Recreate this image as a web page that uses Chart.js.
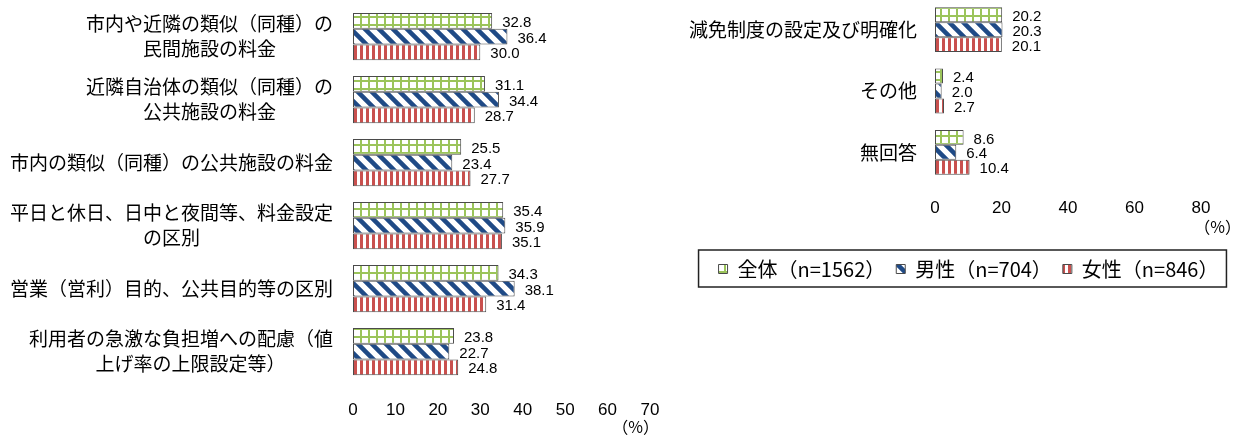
<!DOCTYPE html>
<html><head><meta charset="utf-8">
<script src="https://cdn.jsdelivr.net/npm/chart.js@4.4.1/dist/chart.umd.min.js"></script>
<style>
html,body{margin:0;padding:0;background:#fff;width:1245px;height:435px;overflow:hidden;position:relative}
#w1{position:absolute;left:0;top:0;width:690px;height:435px}
#w2{position:absolute;left:660px;top:-1px;width:585px;height:300px}
</style></head><body>
<div id="w1"><canvas id="c1"></canvas></div>
<div id="w2"><canvas id="c2"></canvas></div>
<script>
// ---- data ----
const seriesNames = ['全体（n=1562）', '男性（n=704）', '女性（n=846）'];
const leftCategories = [
  ['市内や近隣の類似（同種）の', '民間施設の料金'],
  ['近隣自治体の類似（同種）の', '公共施設の料金'],
  '市内の類似（同種）の公共施設の料金',
  ['平日と休日、日中と夜間等、料金設定', 'の区別'],
  '営業（営利）目的、公共目的等の区別',
  ['利用者の急激な負担増への配慮（値', '上げ率の上限設定等）']
];
const leftTotal  = [32.8, 31.1, 25.5, 35.4, 34.3, 23.8];
const leftMale   = [36.4, 34.4, 23.4, 35.9, 38.1, 22.7];
const leftFemale = [30.0, 28.7, 27.7, 35.1, 31.4, 24.8];
const rightCategories = ['減免制度の設定及び明確化', 'その他', '無回答'];
const rightTotal  = [20.2, 2.4, 8.6];
const rightMale   = [20.3, 2.0, 6.4];
const rightFemale = [20.1, 2.7, 10.4];
const leftTickMax = 70, leftTickStep = 10;
const rightTickMax = 80, rightTickStep = 20;
const unitText = '（%）';

// ---- styling helpers ----
const CJK = '"Noto Sans CJK JP", "Noto Sans", sans-serif';
const NUM = '"Liberation Sans", Arial, sans-serif';
function makePattern(kind) {
  const c = document.createElement('canvas');
  const x = c.getContext('2d');
  if (kind === 'grid') {
    c.width = 8; c.height = 8;
    x.fillStyle = '#fff'; x.fillRect(0, 0, 8, 8);
    x.fillStyle = '#9BC45A';
    x.fillRect(0, 0, 8, 2); x.fillRect(0, 0, 2, 8);
  } else if (kind === 'diag') {
    c.width = 14; c.height = 14;
    x.fillStyle = '#fff'; x.fillRect(0, 0, 14, 14);
    x.strokeStyle = '#1F4A86'; x.lineWidth = 4.5;
    x.beginPath();
    x.moveTo(-3, -3); x.lineTo(17, 17);
    x.moveTo(-3, 11); x.lineTo(3, 17);
    x.moveTo(11, -3); x.lineTo(17, 3);
    x.stroke();
  } else {
    c.width = 6; c.height = 6;
    x.fillStyle = '#fff'; x.fillRect(0, 0, 6, 6);
    x.fillStyle = '#C9504E'; x.fillRect(0, 0, 3, 6);
  }
  return x.createPattern(c, 'repeat');
}
const fills = [makePattern('grid'), makePattern('diag'), makePattern('vert')];
const BORDER = '#4a4a4a';

const meas = document.createElement('canvas').getContext('2d');
const LBL_SIZE = 19;
meas.font = LBL_SIZE + 'px ' + CJK;
const wFull = meas.measureText('\u3000').width || LBL_SIZE;
const wSp = meas.measureText(' ').width || LBL_SIZE * 0.25;
function centerLines(lbl) {
  if (!Array.isArray(lbl)) return lbl;
  const ws = lbl.map(s => meas.measureText(s).width);
  const mx = Math.max(...ws);
  return lbl.map((s, i) => {
    let pad = (mx - ws[i]) / 2, out = s;
    while (pad >= wFull - 1) { out += '\u3000'; pad -= wFull; }
    while (pad >= wSp / 2) { out += ' '; pad -= wSp; }
    return out;
  });
}

const valueLabels = {
  id: 'valueLabels',
  afterDatasetsDraw(chart, args, opts) {
    const ctx = chart.ctx;
    ctx.save();
    ctx.font = '15px ' + NUM;
    ctx.fillStyle = '#000';
    ctx.textBaseline = 'middle';
    ctx.textAlign = 'left';
    chart.data.datasets.forEach((ds, i) => {
      chart.getDatasetMeta(i).data.forEach((el, j) => {
        ctx.fillText(ds.data[j].toFixed(1), el.x + opts.dx, el.y + opts.dy);
      });
    });
    ctx.restore();
  }
};
const unitLabel = {
  id: 'unitLabel',
  afterDraw(chart, args, opts) {
    const ctx = chart.ctx;
    ctx.save();
    ctx.font = '16px ' + CJK;
    ctx.fillStyle = '#000';
    ctx.textBaseline = 'middle';
    ctx.textAlign = 'right';
    ctx.fillText(unitText, chart.chartArea.right + opts.dx, opts.y);
    ctx.restore();
  }
};
const legendShift = {
  id: 'legendShift',
  afterLayout(chart, args, opts) {
    const lg = chart.legend;
    if (lg) { lg.left += opts.dx; lg.right += opts.dx; }
  }
};
const legendBox = {
  id: 'legendBox',
  afterDraw(chart) {
    const lg = chart.legend;
    if (!lg || !lg.legendHitBoxes || !lg.legendHitBoxes.length) return;
    const hb = lg.legendHitBoxes;
    const l = Math.min(...hb.map(h => h.left)) - 20;
    const r = Math.max(...hb.map(h => h.left + h.width)) + 8;
    const t = hb[0].top - 9, b = hb[0].top + hb[0].height + 8;
    const ctx = chart.ctx;
    ctx.save();
    ctx.strokeStyle = '#222'; ctx.lineWidth = 1.5;
    ctx.strokeRect(l, t, r - l, b - t);
    ctx.restore();
  }
};

function mkDatasets(a, b, c) {
  return [a, b, c].map((d, i) => ({
    label: seriesNames[i], data: d,
    backgroundColor: fills[i], borderColor: BORDER, borderWidth: 1,
    borderSkipped: false, barPercentage: 1.0
  }));
}

function baseOpts(cfg) {
  return {
    indexAxis: 'y', responsive: true, maintainAspectRatio: false, animation: false,
    layout: { padding: cfg.padding },
    datasets: { bar: { categoryPercentage: cfg.catPct, barPercentage: 1.0 } },
    plugins: {
      legend: cfg.legend,
      tooltip: { enabled: false },
      valueLabels: { dx: 10, dy: 2 },
      unitLabel: { dx: cfg.unitDx, y: cfg.unitY },
      legendShift: { dx: cfg.legendDx || 0 }
    },
    scales: {
      x: {
        min: 0, max: cfg.max,
        grid: { display: false, drawTicks: false }, border: { display: false },
        ticks: { stepSize: cfg.step, color: '#000', padding: cfg.xPad, font: { size: 17, family: NUM }, maxRotation: 0 },
        afterFit(s) { s.height = cfg.xHeight; s.paddingLeft = 0; s.paddingRight = 0; }
      },
      y: {
        grid: { display: false, drawTicks: false }, border: { display: false },
        ticks: {
          color: '#000', padding: cfg.yPad, autoSkip: false,
          font: { size: LBL_SIZE, family: CJK, lineHeight: 1.3 },
          callback(v, i) { return centerLines(this.chart.data.labels[i]); }
        },
        afterFit(s) { s.width = cfg.yWidth; s.paddingTop = 0; s.paddingBottom = 0; }
      }
    }
  };
}

new Chart(document.getElementById('c1'), {
  type: 'bar',
  data: { labels: leftCategories, datasets: mkDatasets(leftTotal, leftMale, leftFemale) },
  options: baseOpts({
    padding: { top: 5, right: 40, left: 0, bottom: 0 }, catPct: 0.75,
    legend: { display: false }, unitDx: 9, unitY: 427,
    max: leftTickMax, step: leftTickStep, xPad: 17, xHeight: 52, yPad: 20, yWidth: 353
  }),
  plugins: [valueLabels, unitLabel]
});

new Chart(document.getElementById('c2'), {
  type: 'bar',
  data: { labels: rightCategories, datasets: mkDatasets(rightTotal, rightMale, rightFemale) },
  options: baseOpts({
    padding: { top: 0, right: 44, left: 0, bottom: 10 }, catPct: 0.73,
    legend: {
      display: true, position: 'bottom',
      labels: { boxWidth: 9, boxHeight: 9, padding: 11, color: '#000', font: { size: 20, family: CJK } }
    },
    legendDx: 38,
    unitDx: 40, unitY: 228,
    max: rightTickMax, step: rightTickStep, xPad: 15, xHeight: 65, yPad: 18, yWidth: 275
  }),
  plugins: [legendShift, valueLabels, unitLabel, legendBox]
});
</script>
</body></html>
